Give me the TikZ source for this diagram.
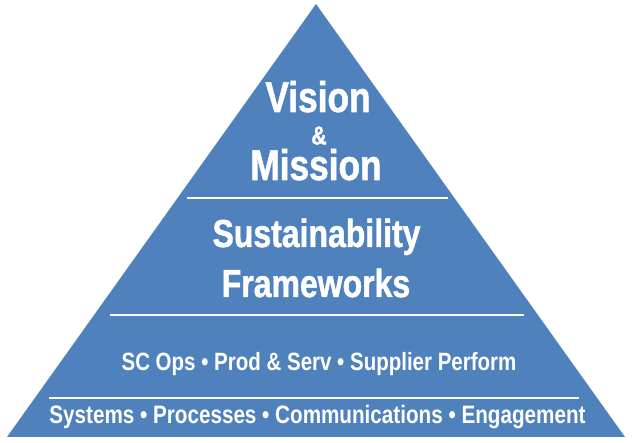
\documentclass[tikz,border=0pt]{standalone}
\usepackage{fontspec}
\usepackage[svgnames]{xcolor}
\newfontfamily\pyrfont[FakeStretch=0.82]{Liberation Sans}
\newfontfamily\pyrheavy[FakeStretch=0.82,FakeBold=1.2]{Liberation Sans}
\definecolor{pyrblue}{HTML}{4F81BD}
\begin{document}
\begin{tikzpicture}[x=1pt,y=-1pt,
    tier/.style={text=white, font=\pyrfont\bfseries, anchor=base, inner sep=0pt},
    divider/.style={draw=white, line width=1.6pt}]
   \useasboundingbox (0,0) rectangle (633,443);
   \fill[color=pyrblue] (316,4) -- (625,437) -- (7,437) -- cycle;
   \coordinate (d1l) at (187,198); \coordinate (d1r) at (448,198);
   \coordinate (d2l) at (110,315); \coordinate (d2r) at (524,315);
   \coordinate (d3l) at (49,398);  \coordinate (d3r) at (579,398);
   \draw[divider] (d1l) -- (d1r);
   \draw[divider] (d2l) -- (d2r);
   \draw[divider] (d3l) -- (d3r);
   \node[tier, font=\pyrheavy\bfseries\fontsize{43}{43}\selectfont] (vision) at (318,112) {Vision};
   \node[tier, font=\pyrheavy\bfseries\fontsize{26}{26}\selectfont] (amp) at (319,144.5) {\&};
   \node[tier, font=\pyrheavy\bfseries\fontsize{43}{43}\selectfont] (mission) at (316,180) {Mission};
   \node[tier, font=\pyrheavy\bfseries\fontsize{39}{39}\selectfont] (sust) at (316.5,247) {Sustainability};
   \node[tier, font=\pyrheavy\bfseries\fontsize{39}{39}\selectfont] (frame) at (316,297) {Frameworks};
   \node[tier, font=\pyrfont\bfseries\fontsize{25}{25}\selectfont] (ops) at (319,371) {SC Ops • Prod \& Serv • Supplier Perform};
   \node[tier, font=\pyrfont\bfseries\fontsize{25.2}{25.2}\selectfont] (base) at (317.5,424) {Systems • Processes • Communications • Engagement};
\end{tikzpicture}
\end{document}
